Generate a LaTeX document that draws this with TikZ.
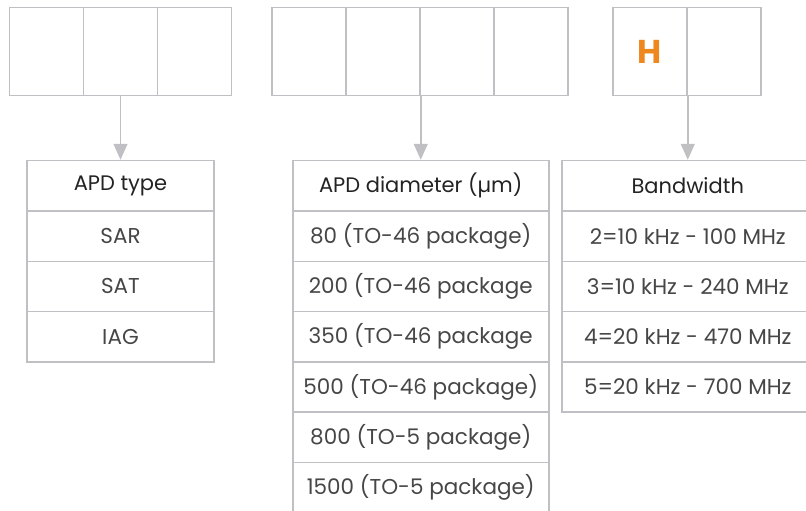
\documentclass[tikz,border=0pt]{standalone}
\usepackage{fontspec}
\setmainfont{Poppins}
\usepackage{xcolor}
\usetikzlibrary{matrix,positioning,arrows.meta}
\definecolor{frame}{RGB}{192,192,196}
\definecolor{ink}{RGB}{35,35,35}
\definecolor{softink}{RGB}{70,70,70}
\definecolor{codeorange}{RGB}{238,135,30}

\begin{document}
\begin{tikzpicture}[
    x=1pt, y=-1pt,
    code-row/.style={matrix of nodes, nodes in empty cells, inner sep=0pt, row sep=-1.5pt, column sep=-1.5pt,
      nodes={draw=frame, line width=1.5pt, minimum width=74pt, minimum height=88pt, anchor=center, inner sep=2pt}},
    opt-col/.style={matrix of nodes, inner sep=0pt, row sep=-1.5pt, column sep=-1.5pt,
      nodes={draw=frame, line width=1.5pt, minimum height=50.3pt, anchor=center, inner sep=2pt,
        text=softink, font=\fontsize{21.5}{21.5}\selectfont}},
    head/.style={text=ink, font=\fontsize{21}{21}\selectfont},
    pick/.style={draw=frame, line width=1.5pt, -{Triangle[width=14pt,length=16pt]}}
  ]

\useasboundingbox (0,0) rectangle (806,511);
\clip (0,0) rectangle (806,511);

% Code fields of the part number
\matrix (fldA) [code-row] at (120.5,51.5) {
 & & \\
};
\matrix (fldB) [code-row] at (420,51.5) {
 & & & \\
};
\matrix (fldC) [code-row] at (687,51.5) {
 |[text=codeorange, font=\fontsize{33}{33}\bfseries]| H & \\
};

% Option tables
\matrix (typ) [opt-col, below=63.5pt of fldA-1-2.south, anchor=north, nodes={minimum width=187pt}] {
 |[head]| APD type \\
 SAR \\
 SAT \\
 IAG \\
};

\matrix (dia) [opt-col, below=63.5pt of fldB-1-2.south east, anchor=north, nodes={minimum width=256pt}] {
 |[head]| APD diameter (µm) \\
 80 (TO-46 package) \\
 200 (TO-46 package \\
 350 (TO-46 package \\
 500 (TO-46 package) \\
 800 (TO-5 package) \\
 1500 (TO-5 package) \\
};

\matrix (bw) [opt-col, below=63.5pt of fldC-1-1.south east, anchor=north, nodes={minimum width=252pt}] {
 |[head]| Bandwidth \\
 2=10 kHz - 100 MHz \\
 3=10 kHz - 240 MHz \\
 4=20 kHz - 470 MHz \\
 5=20 kHz - 700 MHz \\
};

% Pointers from fields to tables
\draw[pick] (fldA-1-2.south) -- (typ.north);
\draw[pick] (fldB-1-2.south east) -- (dia.north);
\draw[pick] (fldC-1-1.south east) -- (bw.north);

\end{tikzpicture}
\end{document}
